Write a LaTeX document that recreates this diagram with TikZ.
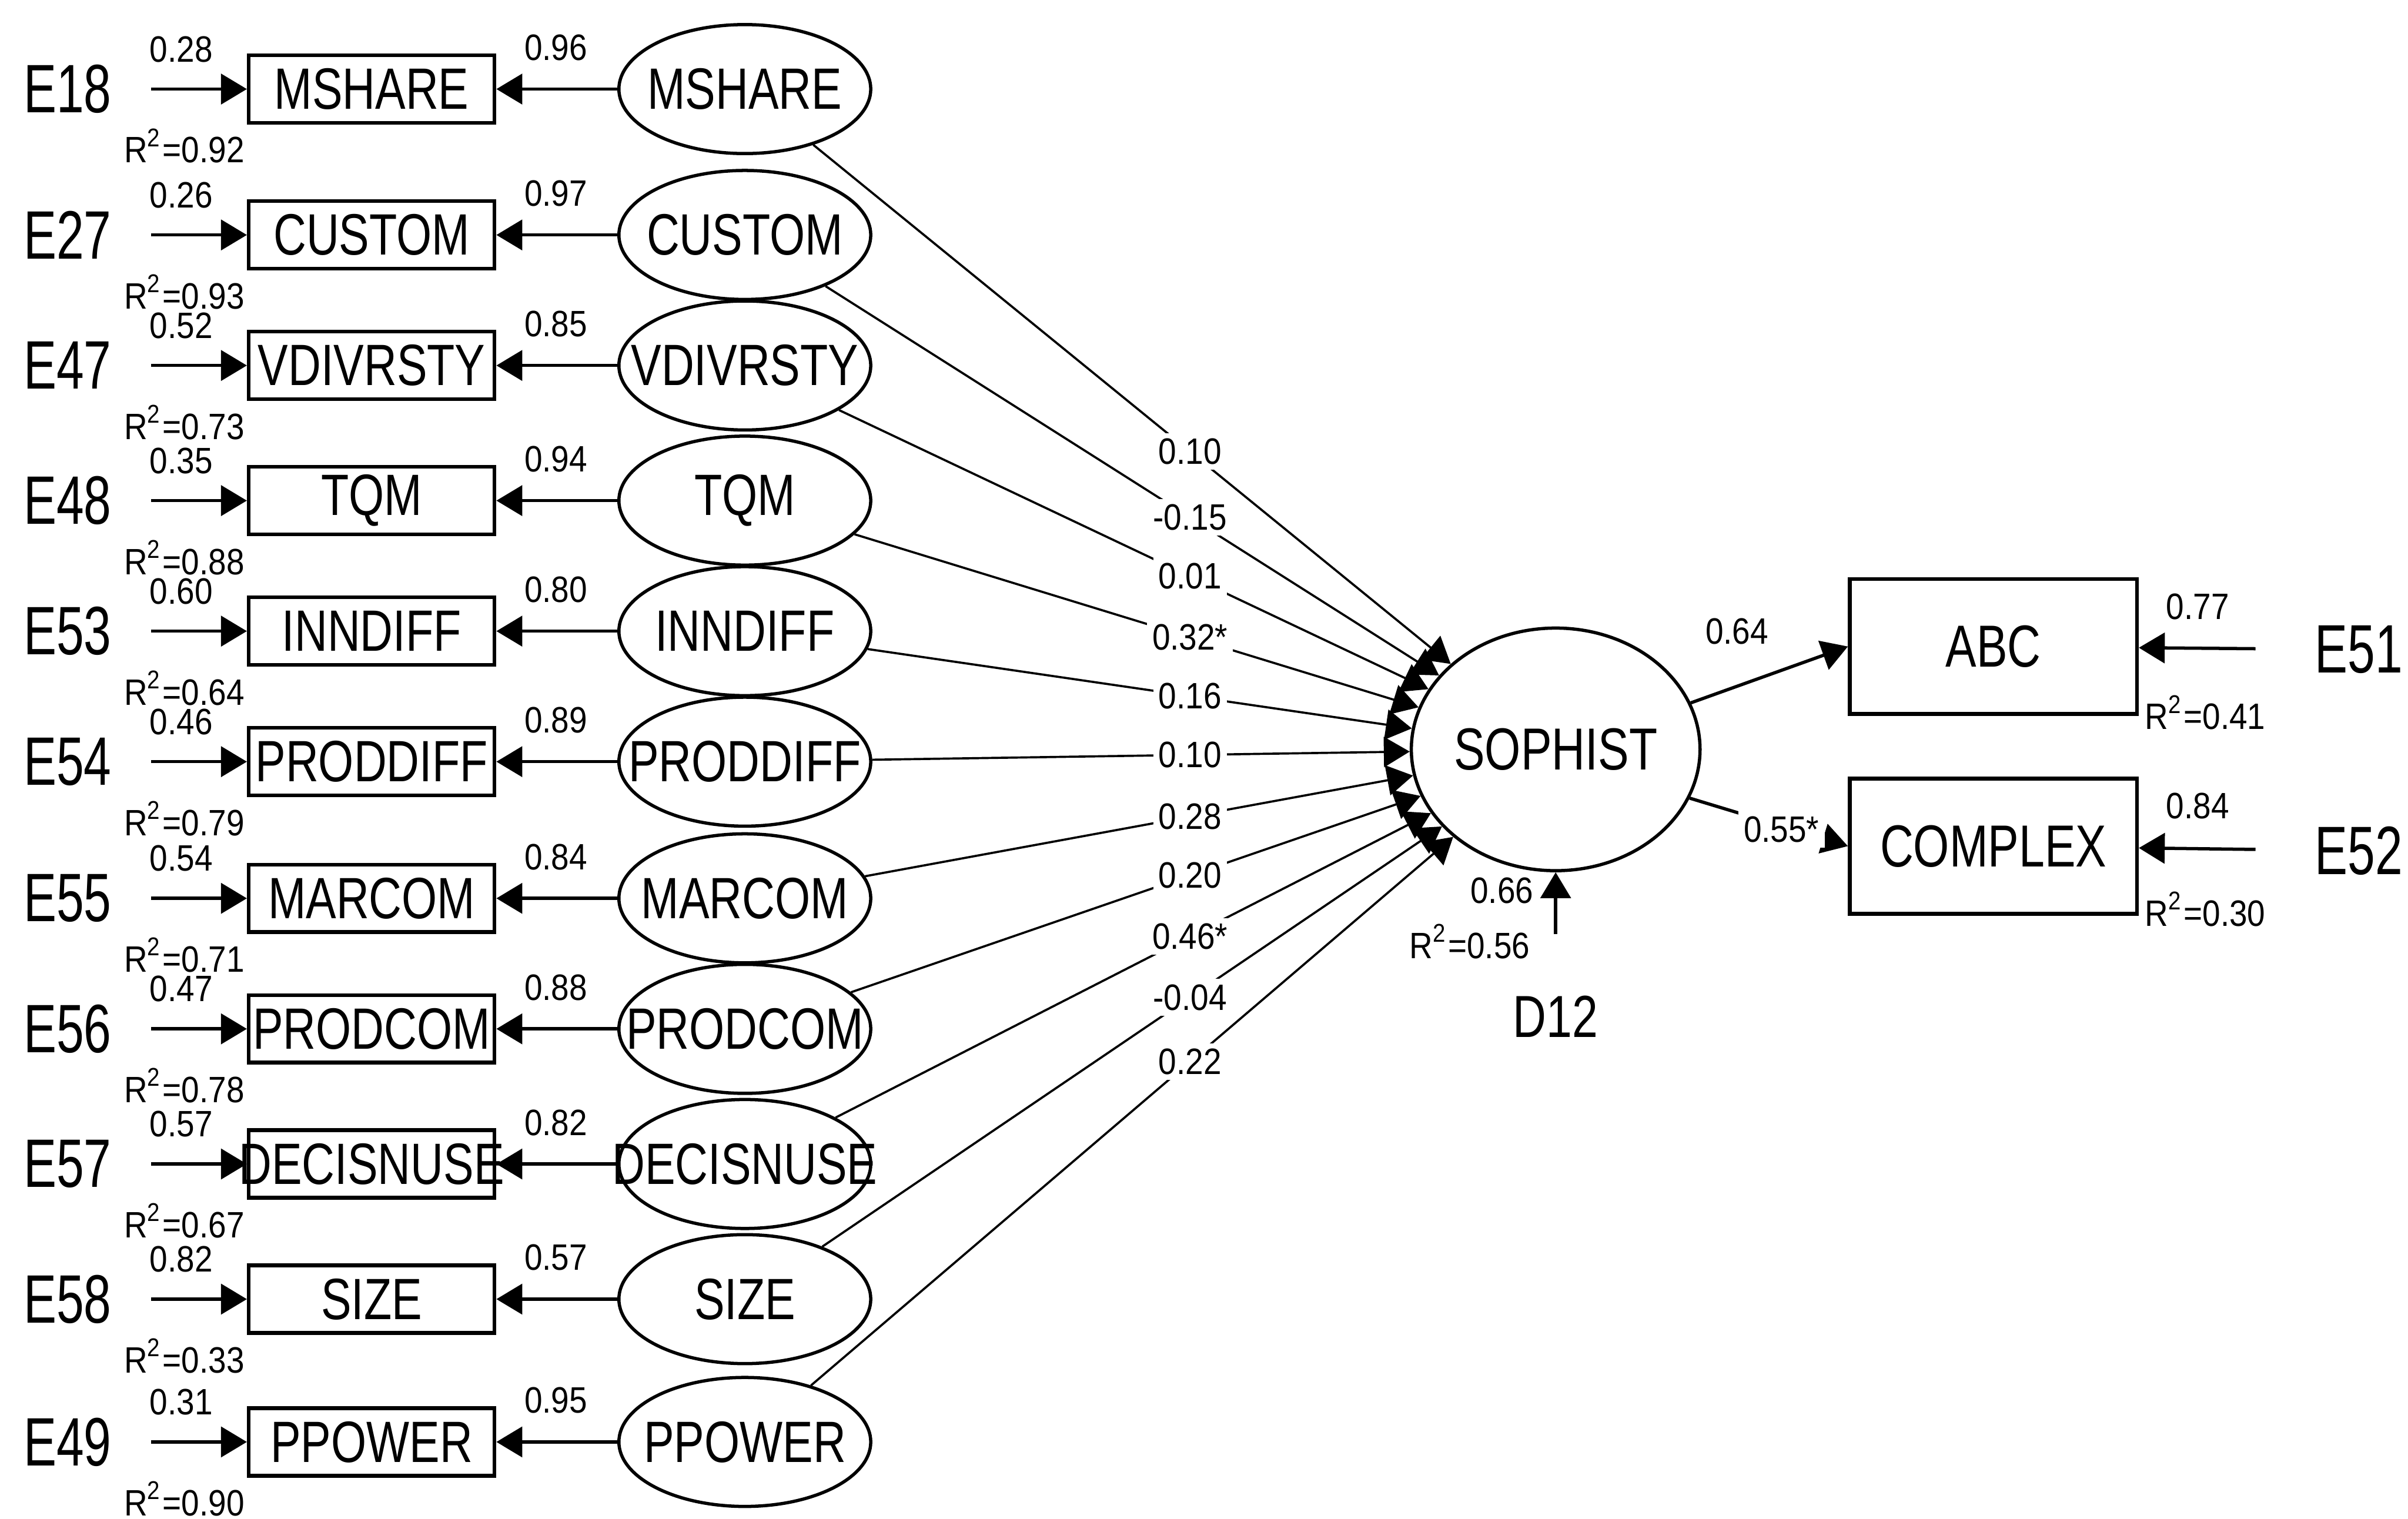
\documentclass[tikz,border=0pt]{standalone}
\usepackage{fontspec}
\setmainfont{Liberation Sans}
\newfontfamily\errfont[FakeStretch=0.72]{Liberation Sans}
\newfontfamily\varfont[FakeStretch=0.78]{Liberation Sans}
\newfontfamily\numfont[FakeStretch=0.88]{Liberation Sans}
\usetikzlibrary{shapes.geometric,arrows.meta,calc}

\begin{document}
\begin{tikzpicture}[x=0.1mm,y=-0.1mm,
    arr/.style={-{Triangle[length=4.8pt,width=5.6pt]},line width=0.6pt},
    coefline/.style={arr,line width=0.4pt},
    obs/.style={draw,line width=0.7pt,minimum width=16mm,minimum height=4.4mm,inner sep=0pt,
        font=\varfont\fontsize{10.8}{12}\selectfont},
    lat/.style={draw,ellipse,line width=0.6pt,minimum width=16.4mm,minimum height=8.4mm,inner sep=0pt,
        font=\varfont\fontsize{10.8}{12}\selectfont},
    err/.style={inner xsep=2.5mm,inner ysep=0pt,font=\errfont\fontsize{12.7}{14}\selectfont},
    num/.style={inner sep=0.5pt,font=\numfont\fontsize{6.8}{8}\selectfont},
    coef/.style={num,fill=white,inner sep=1pt}]
    \useasboundingbox (0,0) rectangle (1568,989);

    % endogenous part
    \node[lat,minimum width=18.8mm,minimum height=15.8mm,font=\varfont\fontsize{11}{13}\selectfont] (soph) at (1013,488) {SOPHIST};
    \node[obs,minimum width=18.7mm,minimum height=8.8mm,font=\varfont\fontsize{11}{13}\selectfont] (abc) at (1298,421) {ABC};
    \node[obs,minimum width=18.7mm,minimum height=8.8mm,font=\varfont\fontsize{11}{13}\selectfont] (cpx) at (1298,551) {COMPLEX};
    \node[err,inner xsep=3.8mm] (e51) at (1536,423) {E51};
    \node[err,inner xsep=3.8mm] (e52) at (1536,554) {E52};
    \node[err,inner xsep=0pt,inner ysep=3.95mm,font=\varfont\fontsize{11}{13}\selectfont] (d12) at (1013,662) {D12};

    \draw[arr] (e51) -- (abc);
    \draw[arr] (e52) -- (cpx);
    \draw[arr] (d12) -- (soph);
    \draw[arr] (soph.19) -- (abc.west);
    \draw[arr] (soph.-20) -- (cpx.west);
    \node[num] at (1131,411) {0.64};
    \node[coef] at (1160,540) {0.55*};
    \node[num] at (1431,395) {0.77};
    \node[num] at (1436,464) {R\textsuperscript{2}=0.41};
    \node[num] at (1431,525) {0.84};
    \node[num] at (1436,592) {R\textsuperscript{2}=0.30};
    \node[num] at (978,580) {0.66};
    \node[num] at (957,613) {R\textsuperscript{2}=0.56};

    % the eleven indicators
    \foreach \y/\e/\v/\ev/\rr/\ld/\c [count=\i] in {
        58/E18/MSHARE/0.28/0.92/0.96/0.10,
        153/E27/CUSTOM/0.26/0.93/0.97/-0.15,
        238/E47/VDIVRSTY/0.52/0.73/0.85/0.01,
        326/E48/TQM/0.35/0.88/0.94/0.32*,
        411/E53/INNDIFF/0.60/0.64/0.80/0.16,
        496/E54/PRODDIFF/0.46/0.79/0.89/0.10,
        585/E55/MARCOM/0.54/0.71/0.84/0.28,
        670/E56/PRODCOM/0.47/0.78/0.88/0.20,
        758/E57/DECISNUSE/0.57/0.67/0.82/0.46*,
        846/E58/SIZE/0.82/0.33/0.57/-0.04,
        939/E49/PPOWER/0.31/0.90/0.95/0.22} {
        \node[err] (e\i) at (44,\y) {\e};
        \node[obs] (b\i) at (242,\y) {\makebox[0pt]{\v}};
        \node[lat] (f\i) at (485,\y) {\makebox[0pt]{\v}};
        \draw[arr] (e\i) -- (b\i);
        \draw[arr] (f\i) -- (b\i);
        \node[num] at (118,\y-26) {\ev};
        \node[num] at (362,\y-27) {\ld};
        \node[num] at (120,\y+37) {R\textsuperscript{2}=\rr};
        \draw[coefline] (f\i) -- (soph);
        \node[coef] at ($(f\i)!0.549!(soph)$) {\c};
    }
\end{tikzpicture}
\end{document}
